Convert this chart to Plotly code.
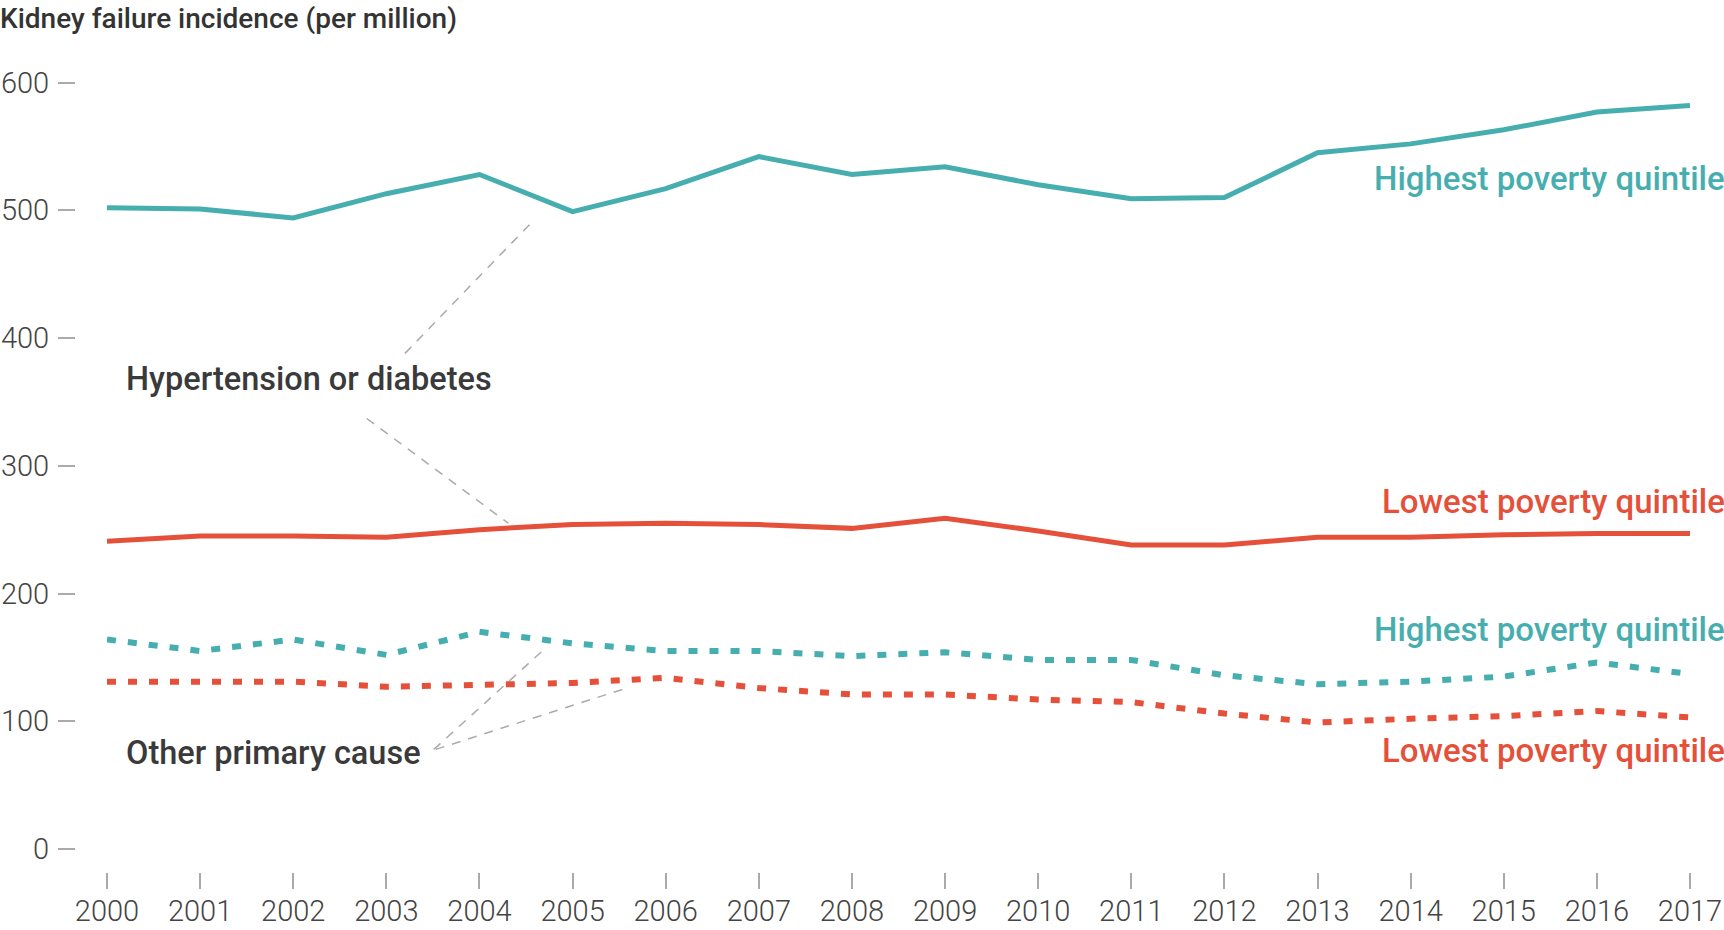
import plotly.graph_objects as go

years = list(range(2000, 2018))
hyp_high = [502, 501, 494, 513, 528, 499, 517, 542, 528, 534, 520, 509, 510, 545, 552, 563, 577, 582]
hyp_low = [241, 245, 245, 244, 250, 254, 255, 254, 251, 259, 249, 238, 238, 244, 244, 246, 247, 247]
oth_high = [164, 155, 164, 152, 170, 161, 155, 155, 151, 154, 148, 148, 136, 129, 131, 135, 146, 137]
oth_low = [131, 131, 131, 127, 128, 130, 134, 126, 121, 121, 117, 115, 106, 99, 102, 104, 108, 103]
y_ticks = [0, 100, 200, 300, 400, 500, 600]

TEAL = "#47aeb0"
RED = "#e5503b"
TXT = "#3a3a3a"
GREY = "#aaaaaa"
FONT = "Roboto"

ML, MR = 75, 34
MT = 57.4
PW = 1724 - ML - MR
PH = 930 - MT - 58

fig = go.Figure()
fig.add_trace(go.Scatter(x=years, y=oth_high, mode="lines",
                         line=dict(color=TEAL, width=6, dash="9px,12px")))
fig.add_trace(go.Scatter(x=years, y=oth_low, mode="lines",
                         line=dict(color=RED, width=6, dash="9px,12px")))
fig.add_trace(go.Scatter(x=years, y=hyp_low, mode="lines",
                         line=dict(color=RED, width=5)))
fig.add_trace(go.Scatter(x=years, y=hyp_high, mode="lines",
                         line=dict(color=TEAL, width=5)))

# leader lines
leaders = [
    (2003.2, 388, 2004.54, 489),
    (2002.79, 337, 2004.31, 255),
    (2003.51, 78, 2004.72, 158),
    (2003.53, 78, 2005.58, 126),
]
for x0, y0, x1, y1 in leaders:
    fig.add_shape(type="line", x0=x0, y0=y0, x1=x1, y1=y1, xref="x", yref="y",
                  line=dict(color=GREY, width=1.5, dash="9px,8px"), layer="below")

# title
fig.add_annotation(text="Kidney failure incidence (per million)", x=-(ML + 2) / PW, y=1 + (MT - 0.5) / PH,
                   xref="paper", yref="paper", xanchor="left", yanchor="top", showarrow=False,
                   font=dict(family=FONT, size=28, color="#333333", weight=500))

# left group labels
for txt, yv in [("Hypertension or diabetes", 368), ("Other primary cause", 75)]:
    fig.add_annotation(text=txt, x=2000.18, y=yv, xref="x", yref="y",
                       xanchor="left", yanchor="middle", showarrow=False,
                       font=dict(family=FONT, size=32.5, color=TXT, weight=500))

# right series labels
xr = (1724 - ML + 3) / PW
for txt, yv, col in [("Highest poverty quintile", 525, TEAL),
                     ("Lowest poverty quintile", 272, RED),
                     ("Highest poverty quintile", 171.5, TEAL),
                     ("Lowest poverty quintile", 77, RED)]:
    fig.add_annotation(text=txt, x=xr, y=yv, xref="paper", yref="y",
                       xanchor="right", yanchor="middle", showarrow=False,
                       font=dict(family=FONT, size=33, color=col, weight=500))

fig.update_layout(
    width=1724, height=930,
    margin=dict(l=ML, r=MR, t=MT, b=58, autoexpand=False),
    paper_bgcolor="white", plot_bgcolor="white",
    showlegend=False,
    xaxis=dict(domain=[32 / PW, 1], range=[2000, 2017], tickmode="array",
               tickvals=years, ticktext=[str(y) for y in years],
               ticks="outside", ticklen=16, tickwidth=1.5, tickcolor=GREY,
               ticklabelstandoff=-3,
               showgrid=False, zeroline=False, showline=False, automargin=False,
               tickfont=dict(family=FONT, size=29, color="#444444", weight=300)),
    yaxis=dict(range=[-18.0, 620], anchor="free", position=0,
               tickmode="array", tickvals=y_ticks,
               ticks="outside", ticklen=17, tickwidth=1.5, tickcolor=GREY,
               ticklabelstandoff=3, automargin=False,
               showgrid=False, zeroline=False, showline=False,
               tickfont=dict(family=FONT, size=29, color="#444444", weight=300)),
)

fig.write_html("out.html", config={"displayModeBar": False},
               post_script="document.body.style.margin='0px';")
